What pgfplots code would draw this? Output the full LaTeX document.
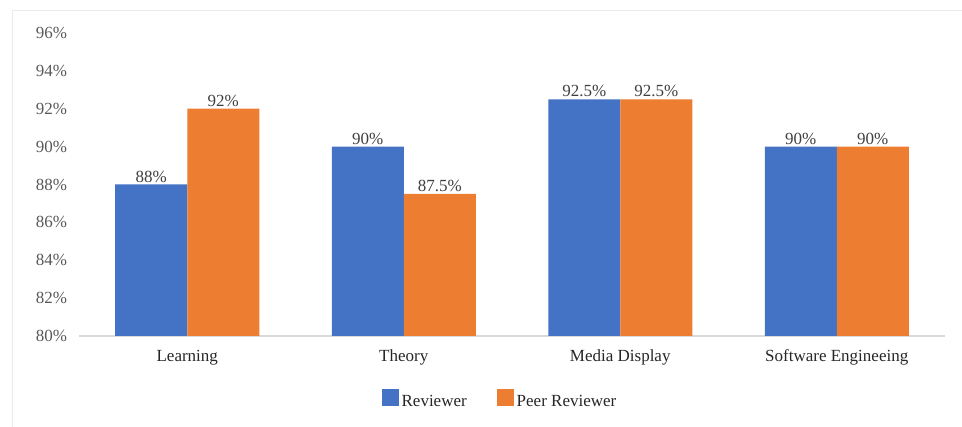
\documentclass[border=0pt]{standalone}
\usepackage{fontspec}
\setmainfont{Liberation Serif}
\usepackage{pgfplots}
\pgfplotsset{compat=1.18}

\definecolor{revblue}{HTML}{4472C4}
\definecolor{peerorange}{HTML}{ED7D31}
\definecolor{ticktext}{HTML}{595959}
\definecolor{labeltext}{HTML}{404040}
\definecolor{axisgray}{HTML}{D9D9D9}

\begin{document}
\fontsize{17}{20}\selectfont
\begin{tikzpicture}
\useasboundingbox (0pt,0pt) rectangle (962pt,-427pt);
% frame of the chart area (only top and left edges are visible)
\draw[color=black!8, line width=1pt] (962pt,-11pt) -- (12pt,-11pt) -- (12pt,-427pt);
\begin{axis}[
    at={(79pt,-336pt)}, anchor=south west,
    scale only axis,
    width=866pt, height=303pt,
    ybar=0pt,
    bar width=72pt,
    xmin=-0.5, xmax=3.5,
    ymin=80, ymax=96,
    xtick=data,
    xticklabels={Learning, Theory, Media Display, Software Engineeing},
    ytick={80,82,...,96},
    yticklabels={80\%,82\%,84\%,86\%,88\%,90\%,92\%,94\%,96\%},
    /pgf/number format/assume math mode=true,
    axis x line*=bottom,
    axis y line*=left,
    x axis line style={draw=axisgray, line width=2pt, -},
    y axis line style={draw=none},
    major tick length=0pt,
    tick style={draw=none},
    yticklabel style={text=ticktext, xshift=-6pt},
    xticklabel style={text=black!85, yshift=-8pt},
    nodes near coords={\pgfmathprintnumber{\pgfplotspointmeta}\%},
    every node near coord/.append style={text=labeltext, anchor=south, inner sep=2pt},
    clip=false,
    legend columns=2,
    legend style={at={(0.4867,-0.211)}, anchor=center, draw=none, fill=none,
        inner sep=0pt, text=black!85,
        /tikz/every even column/.append style={column sep=28pt},
        nodes={inner sep=2.5pt}},
    legend image code/.code={\fill[#1] (0pt,-4pt) rectangle (17pt,13pt);},
]
\addplot[fill=revblue, draw=none] coordinates {(0,88) (1,90) (2,92.5) (3,90)};
\addplot[fill=peerorange, draw=none] coordinates {(0,92) (1,87.5) (2,92.5) (3,90)};
\legend{Reviewer, Peer Reviewer}
\end{axis}
\end{tikzpicture}
\end{document}
